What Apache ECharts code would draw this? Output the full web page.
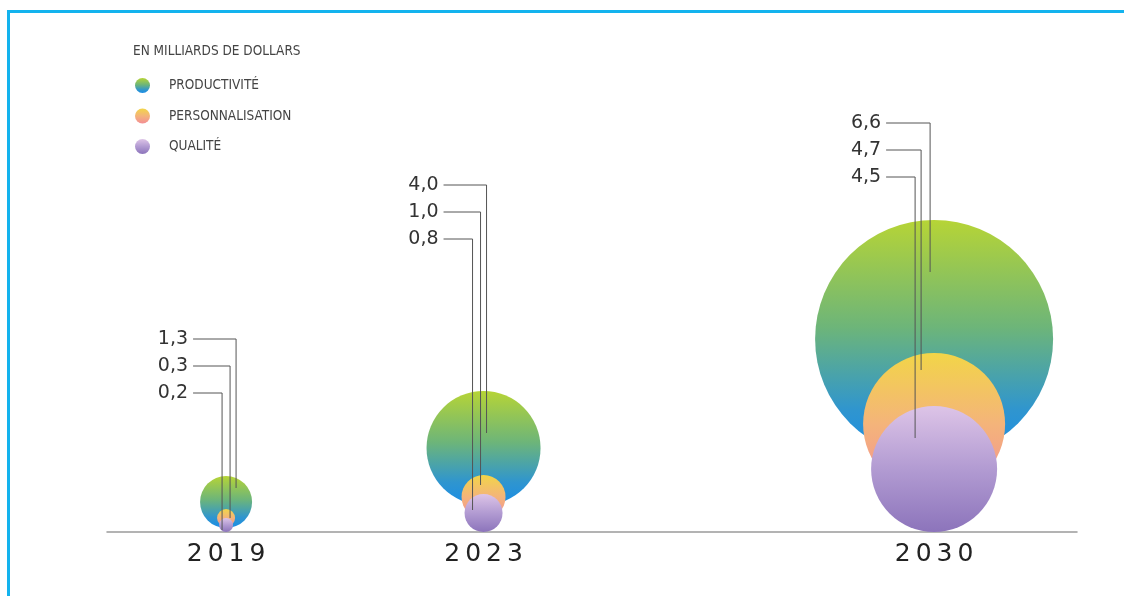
<!DOCTYPE html>
<html>
<head>
<meta charset="utf-8">
<script src="https://cdn.jsdelivr.net/npm/echarts@6/dist/echarts.min.js"></script>
<style>
  html, body { margin: 0; padding: 0; background: #ffffff; }
  #wrap { position: relative; width: 1124px; height: 596px; overflow: hidden; }
  #chart { position: absolute; left: 0; top: 0; width: 1124px; height: 596px; }
  #frame { position: absolute; left: 7px; top: 10px; right: -10px; bottom: -10px;
           border-left: 3px solid #13b3ee; border-top: 3px solid #13b3ee; pointer-events: none; }
</style>
</head>
<body>
<div id="wrap">
  <div id="chart"></div>
  <div id="frame"></div>
</div>
<script>
// ---------- DATA ----------
const years = [2019, 2023, 2030];
const seriesNames = ['PRODUCTIVITÉ', 'PERSONNALISATION', 'QUALITÉ'];
const productivite = [1.3, 4.0, 6.6];
const personnalisation = [0.3, 1.0, 4.7];
const qualite = [0.2, 0.8, 4.5];
const unitTitle = 'EN MILLIARDS DE DOLLARS';

// ---------- STYLE / LAYOUT (pixels, per year: [productivité, personnalisation, qualité]) ----------
const circleRadius = [[26, 9, 7], [57, 22, 19], [119, 71, 63]];
const circleLift   = [[4, 5, 0], [27, 13, 0], [74, 37, 0]];
const leaderDx     = [[10, 4, -4], [3, -3, -11], [-4, -13, -19]];
const leaderEnd    = [[44, 14, 2], [99, 47, 22], [260, 162, 94]];
const labelTop     = [193, 347, 409];
const rowGap = 27;

const fills = [
  new echarts.graphic.LinearGradient(0, 0, 0, 1, [
    { offset: 0, color: '#b6d436' }, { offset: 0.45, color: '#6db579' },
    { offset: 0.8, color: '#2f95cf' }, { offset: 1, color: '#1a8de6' }]),
  new echarts.graphic.LinearGradient(0, 0, 0, 1, [
    { offset: 0, color: '#f2d548' }, { offset: 0.5, color: '#f4b47a' },
    { offset: 1, color: '#f38e95' }]),
  new echarts.graphic.LinearGradient(0, 0, 0, 1, [
    { offset: 0, color: '#ddc4e7' }, { offset: 0.5, color: '#b29bd2' },
    { offset: 1, color: '#8c74bb' }])
];

const valueSets = [productivite, personnalisation, qualite];

function fmtNum(v) { return v.toFixed(1).replace('.', ','); }

function makeRender(k) {
  return function (params, api) {
    const j = params.dataIndex;
    const base = api.coord([api.value(0), 0]);
    const cx = base[0], axisY = base[1];
    const r = circleRadius[j][k];
    const cy = axisY - circleLift[j][k] - r;
    const lx = cx + leaderDx[j][k];
    const rowY = axisY - labelTop[j] + k * rowGap;
    const textRight = cx + Math.min.apply(null, leaderDx[j]) - 34;
    const endY = axisY - leaderEnd[j][k];
    return {
      type: 'group',
      children: [
        { type: 'circle', shape: { cx: cx, cy: cy, r: r }, style: { fill: fills[k] }, z2: 1 },
        { type: 'polyline', shape: { points: [[textRight + 5, rowY], [lx, rowY], [lx, endY]] },
          style: { stroke: '#555', lineWidth: 1, fill: null }, z2: 5 },
        { type: 'text', style: { x: textRight, y: rowY, text: fmtNum(api.value(1)),
          align: 'right', verticalAlign: 'middle', fill: '#333',
          font: '19px "DejaVu Sans"' }, z2: 5 }
      ]
    };
  };
}

const series = valueSets.map(function (vals, k) {
  return {
    name: seriesNames[k],
    type: 'custom',
    renderItem: makeRender(k),
    itemStyle: { color: fills[k] },
    data: years.map(function (y, i) { return [y, vals[i]]; }),
    z: 2 + k,
    silent: true
  };
});

const chart = echarts.init(document.getElementById('chart'), null, { renderer: 'canvas' });
chart.setOption({
  animation: false,
  backgroundColor: '#ffffff',
  title: {
    text: unitTitle, left: 128, top: 39,
    textStyle: { fontSize: 13.5, fontWeight: 'normal', color: '#444', fontFamily: 'DejaVu Sans Condensed' }
  },
  legend: {
    orient: 'vertical', left: 130, top: 73,
    icon: 'circle', itemWidth: 15, itemHeight: 15, itemGap: 15.5,
    textStyle: { fontSize: 13.5, color: '#444', fontFamily: 'DejaVu Sans Condensed', padding: [0, 0, 0, 14] },
    selectedMode: false,
    data: seriesNames
  },
  grid: { left: 107, right: 47, top: 20, bottom: 64 },
  xAxis: {
    type: 'value', min: 2017.15, max: 2032.22,
    axisLine: { show: true, lineStyle: { color: '#9a9a9a', width: 1.5 } },
    axisTick: { show: false },
    splitLine: { show: false },
    axisLabel: {
      customValues: years, margin: 10,
      fontSize: 25, color: '#222', fontFamily: 'DejaVu Sans',
      formatter: function (v) { return String(v).split('').join('\u2009'); }
    }
  },
  yAxis: { type: 'value', min: 0, max: 1, show: false },
  series: series
});
</script>
</body>
</html>
